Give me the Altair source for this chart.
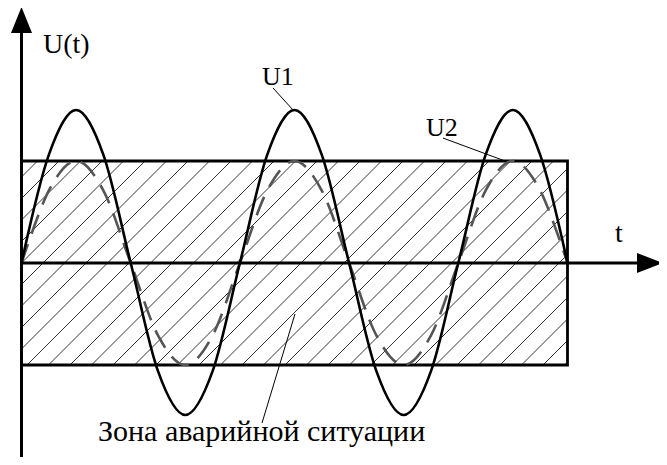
import altair as alt
import pandas as pd

# ---- data (t in quarter periods, U in zone half-heights)
T = [0, 0.5, 1, 1.5, 2, 2.5, 3, 3.5, 4, 4.5, 5, 5.5, 6, 6.5, 7, 7.5, 8, 8.5, 9, 9.5, 10]
U1 = [0, 1.06, 1.5, 1.06, 0, -1.06, -1.49, -1.06, 0, 1.06, 1.5, 1.06, 0,
      -1.06, -1.49, -1.06, 0, 1.06, 1.5, 1.06, 0]
U2 = [0, 0.71, 1.0, 0.71, 0, -0.71, -1.0, -0.71, 0, 0.71, 1.0, 0.71, 0,
      -0.71, -1.0, -0.71, 0, 0.71, 1.0, 0.71, 0]

ZONE_T = [0, 10]
ZONE_U = [-1, 1]

LABELS = ["U(t)", "U1", "U2", "t", "Зона аварийной ситуации"]
LABEL_T = [0.394, 4.405, 7.408, 10.870, 1.401]
LABEL_U = [2.059, 1.745, 1.245, 0.206, -1.745]
LABEL_FS = [28, 26, 26, 28, 30]

LEADER_T = [4.606, 7.720, 4.405]
LEADER_U = [1.716, 1.225, -1.569]
LEADER_T2 = [4.973, 8.855, 5.009]
LEADER_U2 = [1.5, 1.0, -0.5]

X_DOMAIN = [-0.2473, 11.676]
Y_DOMAIN = [-1.902, 2.5]
W, H = 651, 449
KX = W / (X_DOMAIN[1] - X_DOMAIN[0])   # px per t unit
KY = H / (Y_DOMAIN[1] - Y_DOMAIN[0])   # px per U unit

SERIF = "Liberation Serif"

xs = alt.Scale(domain=X_DOMAIN, nice=False, zero=False)
ys = alt.Scale(domain=Y_DOMAIN, nice=False, zero=False)

def X(f="t"):
    return alt.X(f"{f}:Q", scale=xs, axis=None)

def Y(f="u"):
    return alt.Y(f"{f}:Q", scale=ys, axis=None)

# ---- hatch pattern (45 degree lines in screen space) inside the zone
step = 21.5
rows = []
for k in range(-6, 34):
    d = k * step
    ta = max(ZONE_T[0], (d + ZONE_U[0] * KY) / KX)
    tb = min(ZONE_T[1], (d + ZONE_U[1] * KY) / KX)
    if tb - ta > 1e-6:
        rows.append({"t": ta, "u": (ta * KX - d) / KY,
                     "t2": tb, "u2": (tb * KX - d) / KY})
hatch_df = pd.DataFrame(rows)

hatch = alt.Chart(hatch_df).mark_rule(color="#333333", strokeWidth=1).encode(
    x=X(), y=Y(), x2="t2:Q", y2="u2:Q")

zone_df = pd.DataFrame({"t": [ZONE_T[0]], "t2": [ZONE_T[1]],
                        "u": [ZONE_U[0]], "u2": [ZONE_U[1]]})
zone = alt.Chart(zone_df).mark_rect(fillOpacity=0, stroke="black",
                                    strokeWidth=2.8).encode(
    x=X(), x2="t2:Q", y=Y(), y2="u2:Q")

curves = pd.DataFrame({"t": T, "u1": U1, "u2": U2})
line2 = alt.Chart(curves).mark_line(color="#555555", strokeWidth=2.6,
                                    strokeDash=[20, 11], interpolate="cardinal").encode(
    x=X(), y=Y("u2"))
line1 = alt.Chart(curves).mark_line(color="black", strokeWidth=2.6,
                                    interpolate="cardinal").encode(
    x=X(), y=Y("u1"))

axes_df = pd.DataFrame({"t": [0, 0], "u": [Y_DOMAIN[0], 0],
                        "t2": [0, 11.4], "u2": [2.3, 0]})
axes = alt.Chart(axes_df).mark_rule(color="black", strokeWidth=3).encode(
    x=X(), y=Y(), x2="t2:Q", y2="u2:Q")

arrow_up = alt.Chart(pd.DataFrame({"t": [0], "u": [2.382]})).mark_point(
    shape="M0,-1L0.808,1L-0.808,1Z", filled=True, fill="black",
    stroke="black", strokeWidth=0, size=676, opacity=1).encode(x=X(), y=Y())
arrow_right = alt.Chart(pd.DataFrame({"t": [11.511], "u": [0]})).mark_point(
    shape="M1,0L-1,0.77L-1,-0.77Z", filled=True, fill="black",
    stroke="black", strokeWidth=0, size=676, opacity=1).encode(x=X(), y=Y())

leaders = alt.Chart(pd.DataFrame({"t": LEADER_T, "u": LEADER_U,
                                  "t2": LEADER_T2, "u2": LEADER_U2})).mark_rule(
    color="black", strokeWidth=1).encode(x=X(), y=Y(), x2="t2:Q", y2="u2:Q")

label_layers = []
for txt, lt, lu, fs in zip(LABELS, LABEL_T, LABEL_U, LABEL_FS):
    label_layers.append(
        alt.Chart(pd.DataFrame({"t": [lt], "u": [lu], "txt": [txt]})).mark_text(
            align="left", baseline="alphabetic", font=SERIF, fontSize=fs
        ).encode(x=X(), y=Y(), text="txt:N")
    )

chart = alt.layer(hatch, zone, line2, line1, axes, arrow_up, arrow_right,
                  leaders, *label_layers).properties(
    width=W, height=H, padding=0, autosize=alt.AutoSizeParams(type="none"),
    background="white"
).configure_view(strokeWidth=0)

chart.save("out.html", embed_options={"renderer": "svg", "actions": False})
